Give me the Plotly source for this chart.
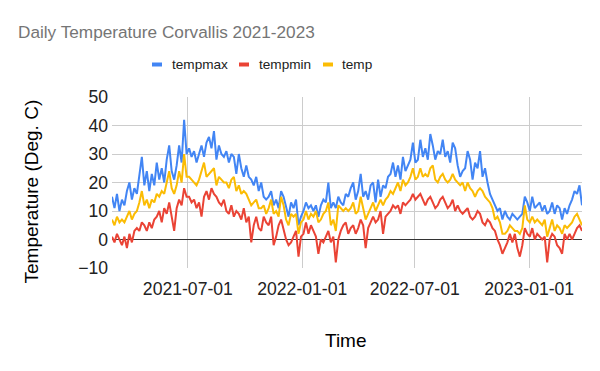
import pandas as pd
import plotly.graph_objects as go

# Sample dates (every 4 days, 2021-03-01 .. 2023-03-27)
start_date = "2021-03-01"
n_points = 190
dates = pd.date_range(start_date, periods=n_points, freq="4D")

tempmax = [
    15, 11, 16, 10, 14, 12, 17, 20, 14, 18, 16, 22, 29, 19, 24, 17, 23, 19, 27, 21, 25, 20, 28, 33, 24, 21, 26, 33, 27, 42, 30,
    32, 29, 31, 27, 30, 33, 29, 34, 36, 32, 38, 28, 33, 30, 29, 31, 27, 30, 29, 23, 30, 25, 22, 26, 22, 21, 19, 22, 17, 20, 15, 14,
    15, 17, 12, 14, 11, 17, 15, 11, 8, 13, 11, 14, 5, 8, 10, 13, 11, 12, 10, 12, 8, 12, 14, 13, 20, 11, 13, 11, 15, 13, 12, 16,
    15, 18, 20, 14, 17, 23, 15, 17, 14, 19, 20, 13, 21, 15, 19, 18, 22, 23, 27, 22, 26, 21, 29, 24, 26, 28, 34, 27, 28, 35, 29,
    32, 28, 37, 33, 28, 31, 30, 35, 29, 31, 27, 34, 32, 26, 22, 24, 25, 31, 28, 21, 27, 25, 31, 22, 25, 20, 16, 14, 12, 10, 11, 7,
    10, 8, 7, 9, 8, 7, 8, 9, 15, 13, 10, 15, 11, 12, 13, 10, 12, 9, 10, 13, 9, 12, 11, 7, 11, 9, 12, 14, 17, 16, 19, 12,
]

tempmin = [
    1, -1, 2, 0, -2, 1, -3, 2, -1, 3, 4, 3, 6, 5, 3, 6, 4, 7, 8, 10, 6, 11, 9, 13, 8, 3, 11, 14, 12, 18, 15,
    15, 13, 14, 11, 13, 8, 15, 17, 14, 18, 16, 15, 13, 12, 14, 10, 9, 12, 8, 10, 9, 7, 11, 6, 8, -1, 5, 8, 4, 3, 8, 6,
    5, 8, -2, 1, 5, 7, 3, 0, -2, -1, 1, 3, -6, 1, 2, 6, 2, 5, 3, 1, -5, 0, -1, 1, 3, -1, 1, -8, 0, 3, 5, 6,
    2, 4, 5, 2, 4, 7, 5, -3, 4, 6, 8, 6, 7, 10, 2, 8, 9, 10, 12, 11, 12, 9, 13, 12, 13, 14, 16, 14, 15, 16, 14,
    12, 14, 15, 13, 11, 12, 14, 15, 13, 11, 12, 14, 10, 12, 10, 9, 10, 11, 8, 7, 8, 10, 9, 6, 5, 7, 6, 4, 3, 0, -2, -5,
    -3, -1, 2, -1, 2, -3, -6, -2, 4, 2, 1, 4, 0, 2, 1, 0, 1, -8, 0, 2, 1, -2, -3, -5, 2, 0, 2, 0, 2, 4, 5, 3,
]

temp = [
    7, 5, 8, 6, 7, 6, 8, 10, 7, 9, 10, 13, 17, 12, 14, 11, 14, 13, 16, 15, 17, 16, 20, 24, 18, 16, 19, 24, 20, 30, 22,
    22, 21, 20, 19, 21, 24, 27, 22, 23, 24, 25, 19, 22, 21, 20, 20, 18, 21, 22, 17, 19, 16, 17, 16, 14, 12, 13, 14, 11, 11, 12, 9,
    11, 14, 9, 10, 8, 15, 12, 7, 5, 9, 8, 9, 2, 6, 7, 10, 7, 9, 8, 10, 6, 7, 9, 10, 13, 5, 7, 3, 12, 11, 10, 11,
    10, 11, 13, 9, 10, 15, 11, 7, 9, 11, 13, 10, 12, 14, 12, 14, 15, 17, 16, 18, 20, 17, 21, 19, 20, 22, 25, 21, 22, 25, 22,
    23, 22, 25, 26, 21, 20, 22, 23, 21, 20, 21, 23, 21, 20, 19, 20, 17, 20, 18, 17, 15, 17, 18, 17, 15, 14, 13, 11, 7, 8, 6, 2,
    2, 3, 5, 4, 3, 3, 2, 4, 12, 7, 6, 8, 6, 7, 6, 5, 7, 1, 4, 7, 3, 5, 4, 2, 5, 4, 5, 6, 8, 9, 7, 5,
]

series_names = ["tempmax", "tempmin", "temp"]
series_colors = ["#4285F4", "#EA4335", "#FBBC04"]
x_tick_labels = ["2021-07-01", "2022-01-01", "2022-07-01", "2023-01-01"]
y_tick_values = [-10, 0, 10, 20, 30, 40, 50]

FONT = "Arial, 'Liberation Sans', sans-serif"

# Figure geometry (page body has an 8px margin)
W, H = 592, 355
ML, MR, MT, MB = 104, 18, 89, 95
PW, PH = W - ML - MR, H - MT - MB


def px(x):
    return (x - ML) / PW


def py(y):
    return (MT + PH - y) / PH


fig = go.Figure()
for name, vals, color in zip(series_names, [tempmax, tempmin, temp], series_colors):
    fig.add_trace(go.Scatter(
        x=dates, y=vals, mode="lines", name=name,
        line=dict(color=color, width=2),
        showlegend=False,
    ))

# Custom legend (short line symbols + labels), laid out as in the reference
legend_sym_x = [144, 231, 315]
legend_txt_x = [162, 249, 332]
legend_y = 56.5
shapes = []
annotations = []
for name, color, sx, tx in zip(series_names, series_colors, legend_sym_x, legend_txt_x):
    shapes.append(dict(type="line", xref="paper", yref="paper",
                       x0=px(sx), x1=px(sx + 10), y0=py(legend_y), y1=py(legend_y),
                       line=dict(color=color, width=4)))
    annotations.append(dict(text=name, xref="paper", yref="paper",
                            x=px(tx), y=py(legend_y), xanchor="left", yanchor="middle",
                            showarrow=False,
                            font=dict(family=FONT, size=13.6, color="#222222")))

annotations += [
    dict(text="Temperature (Deg. C)", xref="paper", yref="paper",
         x=px(23), y=py(183.5), textangle=-90,
         showarrow=False, xanchor="center", yanchor="middle",
         font=dict(family=FONT, size=19, color="#000000")),
    dict(text="Time", xref="paper", yref="paper",
         x=px(338), y=py(332),
         showarrow=False, xanchor="center", yanchor="middle",
         font=dict(family=FONT, size=19, color="#000000")),
]

fig.update_layout(
    width=W, height=H,
    margin=dict(l=ML, r=MR, t=MT, b=MB),
    paper_bgcolor="white", plot_bgcolor="white",
    font=dict(family=FONT, color="#222222"),
    showlegend=False,
    title=dict(
        text="Daily Temperature Corvallis 2021-2023",
        font=dict(family=FONT, size=17.2, color="#757575"),
        x=10 / W, xanchor="left", xref="container",
        y=1 - 24 / H, yanchor="middle", yref="container",
    ),
    xaxis=dict(
        type="date",
        range=[dates[0], dates[-1]],
        tickvals=x_tick_labels, ticktext=x_tick_labels,
        showgrid=True, gridcolor="#cccccc", gridwidth=1,
        showline=False, ticks="", zeroline=False,
        ticklabelstandoff=8,
        tickfont=dict(family=FONT, size=17.6, color="#222222"),
    ),
    yaxis=dict(
        range=[-10, 50], tickvals=y_tick_values,
        showgrid=True, gridcolor="#cccccc", gridwidth=1,
        zeroline=True, zerolinecolor="#333333", zerolinewidth=1,
        showline=False, ticks="",
        ticklabelstandoff=3,
        tickfont=dict(family=FONT, size=17.6, color="#222222"),
    ),
    shapes=shapes,
    annotations=annotations,
)

fig.write_html("out.html")
